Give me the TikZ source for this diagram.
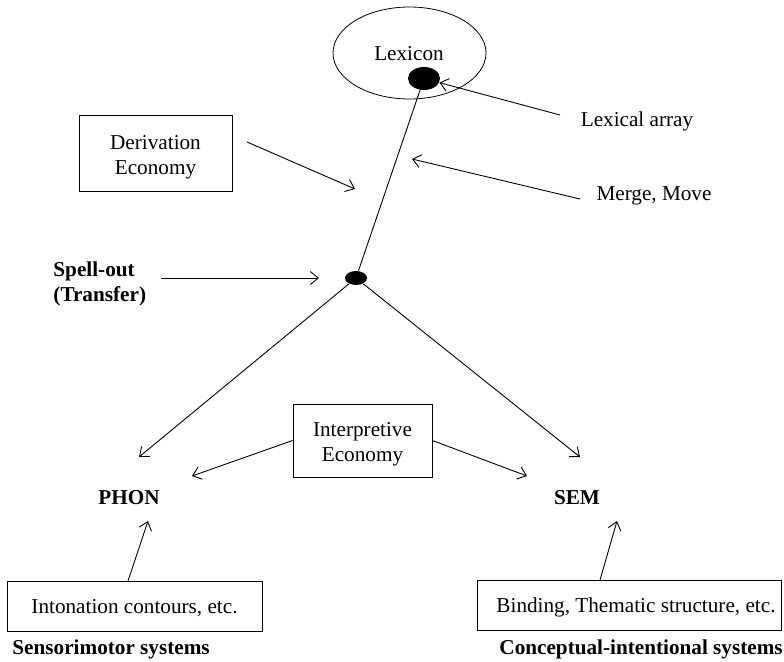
\documentclass[tikz,border=0pt]{standalone}
\usepackage{fontspec}
\setmainfont{Liberation Serif}
\usetikzlibrary{arrows.meta,shapes.geometric}
\begin{document}
\begin{tikzpicture}[x=1pt,y=-1pt, line width=0.9pt,
  txt/.style={font=\fontsize{21.2}{25}\selectfont, inner sep=0pt, align=center},
  bold/.style={font=\fontsize{21.2}{25}\selectfont\bfseries, inner sep=0pt},
  box/.style={draw, line width=0.8pt, inner sep=0pt},
  arr/.style={-{Straight Barb[length=8pt,width=13pt]}},
  blob/.style={fill=black, ellipse, inner sep=0pt}]
\useasboundingbox (0,0) rectangle (784,661);

% Lexicon
\node[draw, ellipse, line width=0.8pt, minimum width=153pt, minimum height=92pt, inner sep=0pt] (lex) at (409.5,53) {};
\node[txt, anchor=base] (lexT) at (409,61) {Lexicon};
\node[blob, minimum width=32pt, minimum height=23pt] (d1) at (424,78.5) {};
\node[blob, minimum width=22pt, minimum height=14pt] (d2) at (356,278) {};
\draw (d1) -- (d2);

% right labels
\node[txt] (lexarr) at (637,121) {Lexical array};
\node[txt] (merge) at (654,196) {Merge, Move};
\coordinate (laS) at (560,115);
\coordinate (mmS) at (580,199);
\coordinate (mmT) at (412,159);
\draw[arr] (laS) -- (d1);
\draw[arr] (mmS) -- (mmT);

% Derivation Economy
\node[box, minimum width=153pt, minimum height=76pt] (deriv) at (155.5,153) {};
\node[txt] (derivT) at (155.5,157) {Derivation\\Economy};
\coordinate (dvS) at (247,142);
\coordinate (dvT) at (355,189);
\draw[arr] (dvS) -- (dvT);

% Spell-out
\node[bold, anchor=west, align=left] (spell) at (53,283.5) {Spell-out\\(Transfer)};
\coordinate (spS) at (161,278);
\coordinate (spT) at (319,278);
\draw[arr] (spS) -- (spT);

% PHON / SEM
\coordinate (phT) at (139,457);
\coordinate (seT) at (580,457);
\draw[arr] (d2) -- (phT);
\draw[arr] (d2) -- (seT);
\node[bold] (phon) at (129,498) {PHON};
\node[bold] (sem) at (577,498) {SEM};

% Interpretive Economy
\node[box, minimum width=139pt, minimum height=73pt] (interp) at (362.5,440.5) {};
\node[txt] (interpT) at (362.5,444) {Interpretive\\Economy};
\coordinate (ieL) at (192,476);
\coordinate (ieR) at (527,476);
\draw[arr] (interp.west) -- (ieL);
\draw[arr] (interp.east) -- (ieR);

% bottom boxes
\node[box, minimum width=255pt, minimum height=50pt] (inton) at (134.5,606) {};
\node[txt] (intonT) at (134.5,608) {Intonation contours, etc.};
\node[box, minimum width=304pt, minimum height=50pt] (bind) at (629,605) {};
\node[txt] (bindT) at (636,607) {Binding, Thematic structure, etc.};
\coordinate (inS) at (128,581);
\coordinate (inT) at (148,521);
\coordinate (biS) at (600,580);
\coordinate (biT) at (617,521);
\draw[arr] (inS) -- (inT);
\draw[arr] (biS) -- (biT);
\node[bold, anchor=west] (senso) at (12,649) {Sensorimotor systems};
\node[bold, anchor=west] (concept) at (499,649) {Conceptual-intentional systems};
\end{tikzpicture}
\end{document}
